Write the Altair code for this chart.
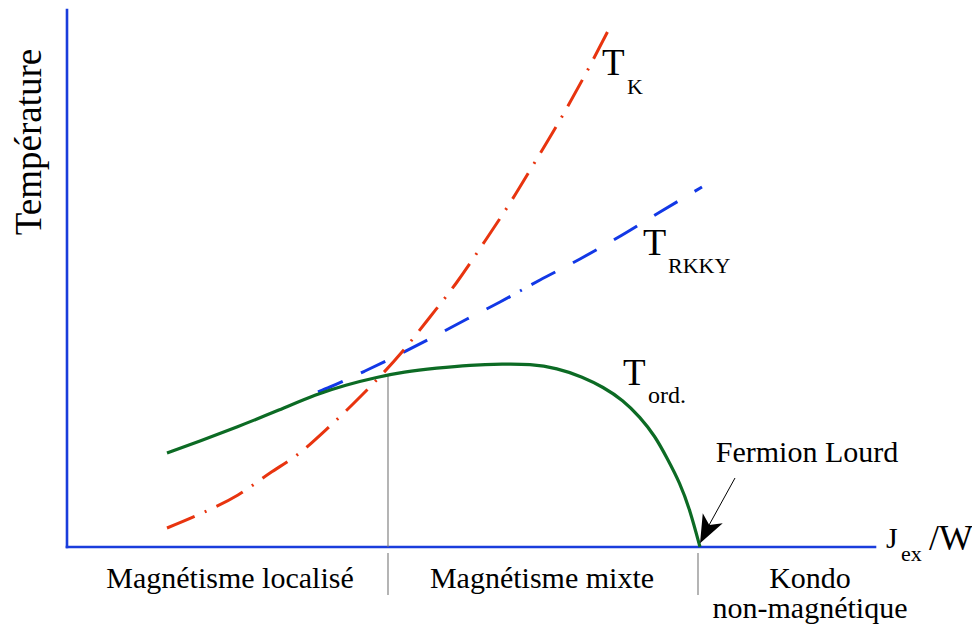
import altair as alt
import pandas as pd

# Coordinates in arbitrary units: x = J_ex/W (0..808), y = temperature (0..537)
X_MAX = 808
Y_MAX = 537

# T_K (Kondo temperature), red dash-dot
tk_x = [100, 133, 171, 203, 230, 263, 293, 335, 363, 390, 418, 443, 468, 493, 518, 543]
tk_y = [19, 33, 52, 74, 92, 121, 150, 195, 230, 265, 306, 344, 385, 427, 472, 520]

# T_RKKY, blue dashed
tr_x = [251, 263, 298, 335, 368, 400, 433, 473, 513, 550, 593, 635]
tr_y = [155, 160, 176, 194, 211, 228, 245, 267, 288, 309, 335, 360]

# T_ord, green solid
to_x = [100, 133, 170, 210, 250, 278, 311, 336, 370, 403, 436, 463, 490, 516, 536, 556,
        573, 588, 600, 613, 623, 633]
to_y = [94, 106, 120, 136, 153, 162, 170, 175, 179, 182, 183, 183, 179, 170, 160, 147,
        130, 111, 89, 64, 37, 0]

# Region separators
sep_x = [321, 321, 631]
sep_y1 = [0, -6, -6]
sep_y2 = [172, -48, -48]

# Centered labels
c_text = ["Magnétisme localisé", "Magnétisme mixte", "Kondo", "non-magnétique", "Fermion Lourd"]
c_x = [163, 475, 743, 743, 740]
c_y = [-41, -41, -41, -71, 85]
c_size = [30, 30, 30, 30, 30]

# Left-aligned labels (symbols with subscripts)
l_text = ["T", "K", "T", "RKKY", "T", "ord.", "J", "ex", "/W"]
l_x = [535, 560, 576, 601, 556, 581, 819, 834, 862]
l_y = [472, 453, 292, 274, 162, 144, -1, -14, -3]
l_size = [37, 22, 38, 22, 37, 24, 30, 22, 36]

# Arrow to "Fermion Lourd" point
arr_x, arr_y, arr_x2, arr_y2 = [668], [69], [641], [20]
head_x, head_y, head_angle = [639.4], [16.3], [207]

xs = alt.Scale(domain=[0, X_MAX], nice=False, zero=False)
ys = alt.Scale(domain=[0, Y_MAX], nice=False, zero=False)

FONT = "Liberation Serif"

def line_layer(xv, yv, color, dash=None, width=3.0, interp="monotone"):
    df = pd.DataFrame({"x": xv, "y": yv})
    kw = dict(color=color, strokeWidth=width, interpolate=interp, strokeCap="butt")
    if dash:
        kw["strokeDash"] = dash
    return alt.Chart(df).mark_line(**kw).encode(
        x=alt.X("x:Q", scale=xs, axis=None),
        y=alt.Y("y:Q", scale=ys, axis=None),
    )

axes_df = pd.DataFrame({"x": [0, 0], "x2": [0, X_MAX], "y": [0, 0], "y2": [Y_MAX, 0]})
axes = alt.Chart(axes_df).mark_rule(color="#1a3ddc", strokeWidth=2.6, strokeCap="square").encode(
    x=alt.X("x:Q", scale=xs, axis=None), x2="x2:Q",
    y=alt.Y("y:Q", scale=ys, axis=None), y2="y2:Q",
)

sep_df = pd.DataFrame({"x": sep_x, "y": sep_y1, "y2": sep_y2})
seps = alt.Chart(sep_df).mark_rule(color="#777777", strokeWidth=1.1).encode(
    x=alt.X("x:Q", scale=xs, axis=None),
    y=alt.Y("y:Q", scale=ys, axis=None), y2="y2:Q",
)

rkky = line_layer(tr_x, tr_y, "#1238e6", dash=[27, 20, 27, 20, 27, 20, 27, 20, 27, 11, 2, 11])
tk = line_layer(tk_x, tk_y, "#e8340f", dash=[30, 11, 2, 11])
tord = line_layer(to_x, to_y, "#0c6b24", width=3.2, interp="basis")

arr_df = pd.DataFrame({"x": arr_x, "y": arr_y, "x2": arr_x2, "y2": arr_y2})
shaft = alt.Chart(arr_df).mark_rule(color="black", strokeWidth=1).encode(
    x=alt.X("x:Q", scale=xs, axis=None), x2="x2:Q",
    y=alt.Y("y:Q", scale=ys, axis=None), y2="y2:Q",
)
head_df = pd.DataFrame({"x": head_x, "y": head_y, "a": head_angle})
head = alt.Chart(head_df).mark_point(
    shape="M0,-1 L0.8,1 L0,0.45 L-0.8,1 Z", filled=True, color="black", opacity=1, size=784,
    strokeWidth=0,
).encode(
    x=alt.X("x:Q", scale=xs, axis=None),
    y=alt.Y("y:Q", scale=ys, axis=None),
    angle=alt.Angle("a:Q", scale=None),
)

c_df = pd.DataFrame({"t": c_text, "x": c_x, "y": c_y, "s": c_size})
ctext = alt.Chart(c_df).mark_text(font=FONT, align="center", baseline="alphabetic", color="black").encode(
    x=alt.X("x:Q", scale=xs, axis=None),
    y=alt.Y("y:Q", scale=ys, axis=None),
    text="t:N",
    size=alt.Size("s:Q", scale=None),
)

l_df = pd.DataFrame({"t": l_text, "x": l_x, "y": l_y, "s": l_size})
ltext = alt.Chart(l_df).mark_text(font=FONT, align="left", baseline="alphabetic", color="black").encode(
    x=alt.X("x:Q", scale=xs, axis=None),
    y=alt.Y("y:Q", scale=ys, axis=None),
    text="t:N",
    size=alt.Size("s:Q", scale=None),
)

ylab_df = pd.DataFrame({"t": ["Température"], "x": [-26], "y": [405]})
ylab = alt.Chart(ylab_df).mark_text(font=FONT, align="center", baseline="alphabetic", angle=270,
                                     fontSize=37, color="black").encode(
    x=alt.X("x:Q", scale=xs, axis=None),
    y=alt.Y("y:Q", scale=ys, axis=None),
    text="t:N",
)

chart = alt.layer(axes, seps, rkky, tk, tord, shaft, head, ctext, ltext, ylab).properties(
    width=X_MAX, height=Y_MAX,
    padding={"left": 59, "top": 2, "right": 97, "bottom": 80},
    autosize=alt.AutoSizeParams(type="none"),
).configure_view(stroke=None)

chart.save("out.html", embed_options={"renderer": "svg", "actions": False})
